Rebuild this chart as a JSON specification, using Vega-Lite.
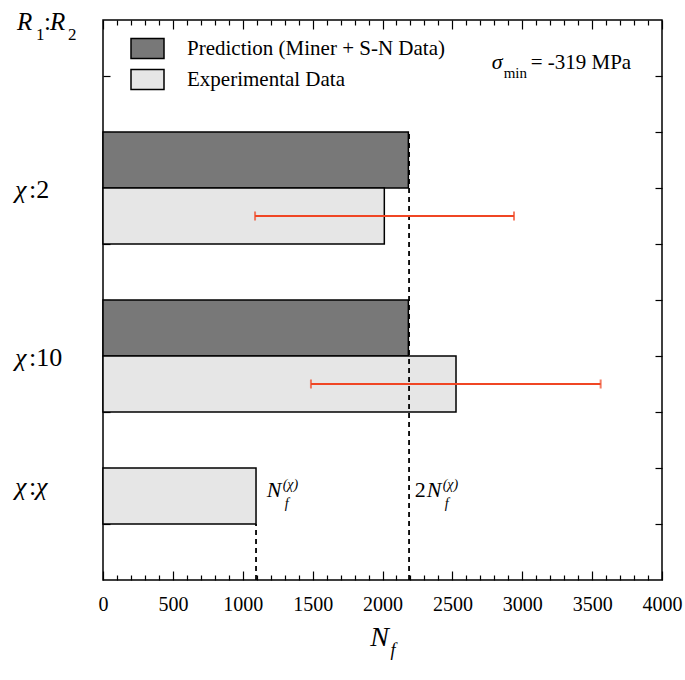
{
  "$schema": "https://vega.github.io/schema/vega-lite/v6.json",
  "autosize": "none",
  "width": 559,
  "height": 560,
  "padding": {"left": 103, "top": 20, "right": 23, "bottom": 100},
  "background": "white",
  "config": {
    "font": "Liberation Serif",
    "view": {"stroke": "black", "strokeWidth": 1.5},
    "axis": {"domain": false, "grid": false, "tickColor": "black", "tickWidth": 1.2, "labelColor": "black", "labelFont": "Liberation Serif", "labelFontSize": 20, "title": null}
  },
  "datasets": {
    "bars": [
      {"ratio": "χ:2", "series": "Prediction (Miner + S-N Data)", "nf": 2185, "lo": 7, "hi": 8},
      {"ratio": "χ:2", "series": "Experimental Data", "nf": 2013, "lo": 6, "hi": 7},
      {"ratio": "χ:10", "series": "Prediction (Miner + S-N Data)", "nf": 2185, "lo": 4, "hi": 5},
      {"ratio": "χ:10", "series": "Experimental Data", "nf": 2526, "lo": 3, "hi": 4},
      {"ratio": "χ:χ", "series": "Experimental Data", "nf": 1095, "lo": 1, "hi": 2}
    ],
    "errors": [
      {"ratio": "χ:2", "mid": 6.5, "min": 1088, "max": 2941},
      {"ratio": "χ:10", "mid": 3.5, "min": 1488, "max": 3561}
    ],
    "guides": [
      {"label": "N_f", "nf": 1095, "lo": 0, "hi": 1},
      {"label": "2N_f", "nf": 2190, "lo": 0, "hi": 8}
    ]
  },
  "layer": [
    {
      "data": {"name": "bars"},
      "mark": {"type": "rect", "stroke": "black", "strokeWidth": 1.5},
      "encoding": {
        "x": {"field": "nf", "type": "quantitative", "scale": {"domain": [0, 4000], "nice": false},
          "axis": {"orient": "bottom", "values": [0,100,200,300,400,500,600,700,800,900,1000,1100,1200,1300,1400,1500,1600,1700,1800,1900,2000,2100,2200,2300,2400,2500,2600,2700,2800,2900,3000,3100,3200,3300,3400,3500,3600,3700,3800,3900,4000],
            "format": "d", "labelExpr": "datum.value % 500 === 0 ? datum.label : ''", "labelFlush": false, "labelOverlap": false,
            "tickSize": {"condition": {"test": "datum.value % 500 === 0", "value": -9}, "value": -5}, "labelPadding": 23}},
        "x2": {"datum": 0},
        "y": {"field": "lo", "type": "quantitative", "scale": {"domain": [0, 10], "nice": false},
          "axis": {"orient": "left", "values": [1,2,3,4,5,6,7,8,9], "labels": false, "tickSize": -7}},
        "y2": {"field": "hi"},
        "fill": {"field": "series", "type": "nominal",
          "scale": {"domain": ["Prediction (Miner + S-N Data)", "Experimental Data"], "range": ["#787878", "#e6e6e6"]},
          "legend": {"title": null, "orient": "none", "legendX": 27, "legendY": 11, "symbolType": "M-1,-0.606H1V0.606H-1Z", "symbolSize": 1089,
            "symbolStrokeColor": "black", "symbolStrokeWidth": 1.5, "symbolOpacity": 1, "labelFont": "Liberation Serif", "labelFontSize": 21,
            "labelColor": "black", "labelOffset": 22, "rowPadding": -2, "padding": 0, "labelLimit": 400}}
      }
    },
    {
      "data": {"name": "guides"},
      "mark": {"type": "rule", "strokeDash": [5, 4], "strokeWidth": 1.8, "color": "black"},
      "encoding": {
        "x": {"field": "nf", "type": "quantitative",
          "axis": {"orient": "top", "values": [0,100,200,300,400,500,600,700,800,900,1000,1100,1200,1300,1400,1500,1600,1700,1800,1900,2000,2100,2200,2300,2400,2500,2600,2700,2800,2900,3000,3100,3200,3300,3400,3500,3600,3700,3800,3900,4000],
            "labels": false, "tickSize": {"condition": {"test": "datum.value % 500 === 0", "value": -9}, "value": -5}}},
        "y": {"field": "lo", "type": "quantitative", "axis": {"orient": "right", "values": [1,2,3,4,5,6,7,8,9], "labels": false, "tickSize": -7}},
        "y2": {"field": "hi"}
      }
    },
    {
      "data": {"name": "errors"},
      "mark": {"type": "rule", "color": "#f04624", "strokeWidth": 2},
      "encoding": {
        "x": {"field": "min", "type": "quantitative", "axis": null},
        "x2": {"field": "max"},
        "y": {"field": "mid", "type": "quantitative", "axis": null}
      }
    },
    {
      "data": {"name": "errors"},
      "mark": {"type": "tick", "orient": "vertical", "size": 9, "thickness": 2, "color": "#f04624"},
      "encoding": {
        "x": {"field": "min", "type": "quantitative", "axis": null},
        "y": {"field": "mid", "type": "quantitative", "axis": null}
      }
    },
    {
      "data": {"name": "errors"},
      "mark": {"type": "tick", "orient": "vertical", "size": 9, "thickness": 2, "color": "#f04624"},
      "encoding": {
        "x": {"field": "max", "type": "quantitative", "axis": null},
        "y": {"field": "mid", "type": "quantitative", "axis": null}
      }
    },
    {"data": {"values": [{}]}, "mark": {"type": "text", "text": "R", "fontStyle": "italic", "fontSize": 25, "align": "left", "baseline": "alphabetic", "dx": -86, "color": "black"},
      "encoding": {"x": {"datum": 0, "type": "quantitative", "axis": null}, "y": {"datum": 9.82, "type": "quantitative", "axis": null}}},
    {"data": {"values": [{}]}, "mark": {"type": "text", "text": "1", "fontSize": 17, "align": "left", "baseline": "alphabetic", "dx": -67, "dy": 10, "color": "black"},
      "encoding": {"x": {"datum": 0, "type": "quantitative", "axis": null}, "y": {"datum": 9.82, "type": "quantitative", "axis": null}}},
    {"data": {"values": [{}]}, "mark": {"type": "text", "text": ":", "fontSize": 25, "align": "left", "baseline": "alphabetic", "dx": -59, "color": "black"},
      "encoding": {"x": {"datum": 0, "type": "quantitative", "axis": null}, "y": {"datum": 9.82, "type": "quantitative", "axis": null}}},
    {"data": {"values": [{}]}, "mark": {"type": "text", "text": "R", "fontStyle": "italic", "fontSize": 25, "align": "left", "baseline": "alphabetic", "dx": -53, "color": "black"},
      "encoding": {"x": {"datum": 0, "type": "quantitative", "axis": null}, "y": {"datum": 9.82, "type": "quantitative", "axis": null}}},
    {"data": {"values": [{}]}, "mark": {"type": "text", "text": "2", "fontSize": 17, "align": "left", "baseline": "alphabetic", "dx": -35, "dy": 10, "color": "black"},
      "encoding": {"x": {"datum": 0, "type": "quantitative", "axis": null}, "y": {"datum": 9.82, "type": "quantitative", "axis": null}}},
    {"data": {"values": [{}]}, "mark": {"type": "text", "text": "χ", "fontStyle": "italic", "fontSize": 26, "align": "left", "baseline": "alphabetic", "dx": -88, "color": "black"},
      "encoding": {"x": {"datum": 0, "type": "quantitative", "axis": null}, "y": {"datum": 6.82, "type": "quantitative", "axis": null}}},
    {"data": {"values": [{}]}, "mark": {"type": "text", "text": ":2", "fontSize": 26, "align": "left", "baseline": "alphabetic", "dx": -74, "color": "black"},
      "encoding": {"x": {"datum": 0, "type": "quantitative", "axis": null}, "y": {"datum": 6.82, "type": "quantitative", "axis": null}}},
    {"data": {"values": [{}]}, "mark": {"type": "text", "text": "χ", "fontStyle": "italic", "fontSize": 26, "align": "left", "baseline": "alphabetic", "dx": -88, "color": "black"},
      "encoding": {"x": {"datum": 0, "type": "quantitative", "axis": null}, "y": {"datum": 3.82, "type": "quantitative", "axis": null}}},
    {"data": {"values": [{}]}, "mark": {"type": "text", "text": ":10", "fontSize": 26, "align": "left", "baseline": "alphabetic", "dx": -74, "color": "black"},
      "encoding": {"x": {"datum": 0, "type": "quantitative", "axis": null}, "y": {"datum": 3.82, "type": "quantitative", "axis": null}}},
    {"data": {"values": [{}]}, "mark": {"type": "text", "text": "χ", "fontStyle": "italic", "fontSize": 26, "align": "left", "baseline": "alphabetic", "dx": -88, "color": "black"},
      "encoding": {"x": {"datum": 0, "type": "quantitative", "axis": null}, "y": {"datum": 1.51, "type": "quantitative", "axis": null}}},
    {"data": {"values": [{}]}, "mark": {"type": "text", "text": ":", "fontSize": 26, "align": "left", "baseline": "alphabetic", "dx": -74, "color": "black"},
      "encoding": {"x": {"datum": 0, "type": "quantitative", "axis": null}, "y": {"datum": 1.51, "type": "quantitative", "axis": null}}},
    {"data": {"values": [{}]}, "mark": {"type": "text", "text": "χ", "fontStyle": "italic", "fontSize": 26, "align": "left", "baseline": "alphabetic", "dx": -67, "color": "black"},
      "encoding": {"x": {"datum": 0, "type": "quantitative", "axis": null}, "y": {"datum": 1.51, "type": "quantitative", "axis": null}}},
    {"data": {"values": [{}]}, "mark": {"type": "text", "text": "N", "fontStyle": "italic", "fontSize": 22, "align": "left", "baseline": "alphabetic", "color": "black"},
      "encoding": {"x": {"datum": 1171, "type": "quantitative", "axis": null}, "y": {"datum": 1.48, "type": "quantitative", "axis": null}}},
    {"data": {"values": [{}]}, "mark": {"type": "text", "text": "(χ)", "fontStyle": "italic", "fontSize": 14, "align": "left", "baseline": "alphabetic", "dx": 16, "dy": -8, "color": "black"},
      "encoding": {"x": {"datum": 1171, "type": "quantitative", "axis": null}, "y": {"datum": 1.48, "type": "quantitative", "axis": null}}},
    {"data": {"values": [{}]}, "mark": {"type": "text", "text": "f", "fontStyle": "italic", "fontSize": 14, "align": "left", "baseline": "alphabetic", "dx": 18, "dy": 11, "color": "black"},
      "encoding": {"x": {"datum": 1171, "type": "quantitative", "axis": null}, "y": {"datum": 1.48, "type": "quantitative", "axis": null}}},
    {"data": {"values": [{}]}, "mark": {"type": "text", "text": "2", "fontSize": 22, "align": "left", "baseline": "alphabetic", "color": "black"},
      "encoding": {"x": {"datum": 2230, "type": "quantitative", "axis": null}, "y": {"datum": 1.48, "type": "quantitative", "axis": null}}},
    {"data": {"values": [{}]}, "mark": {"type": "text", "text": "N", "fontStyle": "italic", "fontSize": 22, "align": "left", "baseline": "alphabetic", "dx": 12, "color": "black"},
      "encoding": {"x": {"datum": 2230, "type": "quantitative", "axis": null}, "y": {"datum": 1.48, "type": "quantitative", "axis": null}}},
    {"data": {"values": [{}]}, "mark": {"type": "text", "text": "(χ)", "fontStyle": "italic", "fontSize": 14, "align": "left", "baseline": "alphabetic", "dx": 28, "dy": -8, "color": "black"},
      "encoding": {"x": {"datum": 2230, "type": "quantitative", "axis": null}, "y": {"datum": 1.48, "type": "quantitative", "axis": null}}},
    {"data": {"values": [{}]}, "mark": {"type": "text", "text": "f", "fontStyle": "italic", "fontSize": 14, "align": "left", "baseline": "alphabetic", "dx": 30, "dy": 11, "color": "black"},
      "encoding": {"x": {"datum": 2230, "type": "quantitative", "axis": null}, "y": {"datum": 1.48, "type": "quantitative", "axis": null}}},
    {"data": {"values": [{}]}, "mark": {"type": "text", "text": "σ", "fontStyle": "italic", "fontSize": 22, "align": "left", "baseline": "alphabetic", "color": "black"},
      "encoding": {"x": {"datum": 2781, "type": "quantitative", "axis": null}, "y": {"datum": 9.12, "type": "quantitative", "axis": null}}},
    {"data": {"values": [{}]}, "mark": {"type": "text", "text": "min", "fontSize": 15, "align": "left", "baseline": "alphabetic", "dx": 12, "dy": 9, "color": "black"},
      "encoding": {"x": {"datum": 2781, "type": "quantitative", "axis": null}, "y": {"datum": 9.12, "type": "quantitative", "axis": null}}},
    {"data": {"values": [{}]}, "mark": {"type": "text", "text": "= -319 MPa", "fontSize": 21, "align": "left", "baseline": "alphabetic", "dx": 39, "color": "black"},
      "encoding": {"x": {"datum": 2781, "type": "quantitative", "axis": null}, "y": {"datum": 9.12, "type": "quantitative", "axis": null}}},
    {"data": {"values": [{}]}, "mark": {"type": "text", "text": "N", "fontStyle": "italic", "fontSize": 28, "align": "center", "baseline": "alphabetic", "dx": -3, "dy": 66, "color": "black"},
      "encoding": {"x": {"datum": 2000, "type": "quantitative", "axis": null}, "y": {"datum": 0, "type": "quantitative", "axis": null}}},
    {"data": {"values": [{}]}, "mark": {"type": "text", "text": "f", "fontStyle": "italic", "fontSize": 18, "align": "left", "baseline": "alphabetic", "dx": 8, "dy": 76, "color": "black"},
      "encoding": {"x": {"datum": 2000, "type": "quantitative", "axis": null}, "y": {"datum": 0, "type": "quantitative", "axis": null}}}
  ],
  "resolve": {"axis": {"x": "independent", "y": "independent"}}
}
